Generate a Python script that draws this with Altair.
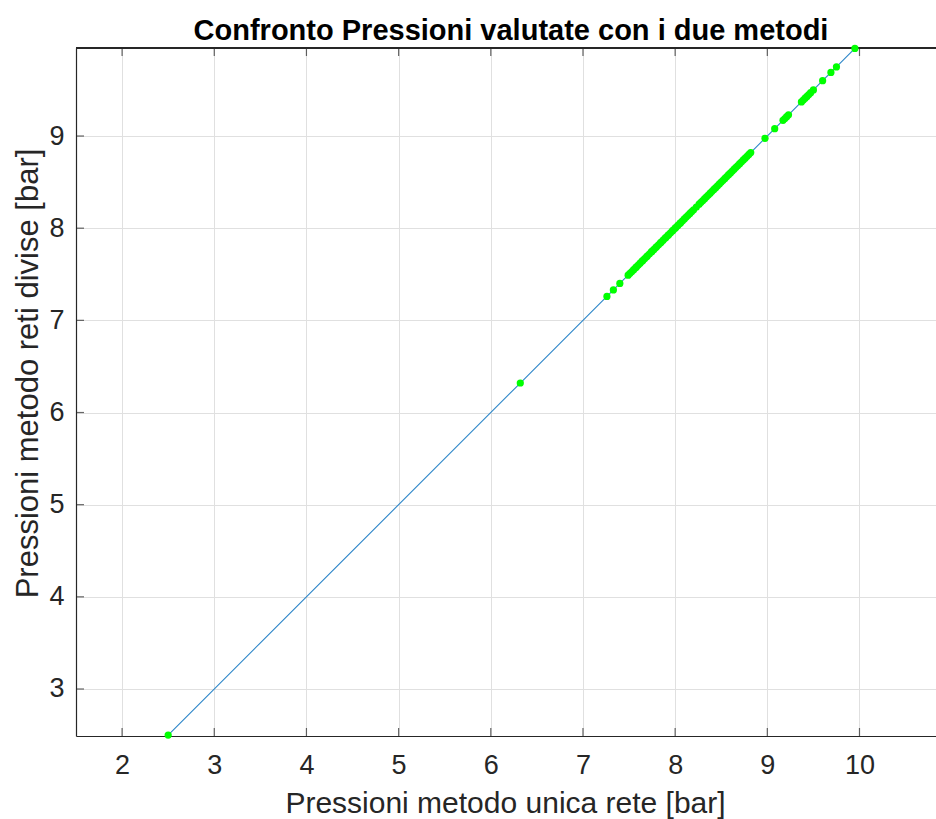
import altair as alt
import pandas as pd

# Pressures computed with the two methods [bar]
pressioni_unica = [
    2.50, 6.32,
    7.26, 7.33, 7.40,
    7.49, 7.51, 7.53, 7.55, 7.57, 7.58, 7.60, 7.62, 7.64, 7.65, 7.67, 7.69,
    7.70, 7.72, 7.74, 7.75, 7.77, 7.79, 7.80, 7.82, 7.84, 7.85, 7.87, 7.89,
    7.90, 7.92, 7.93, 7.95, 7.97, 7.98, 8.00, 8.01, 8.03, 8.05, 8.06, 8.08,
    8.10, 8.12, 8.14, 8.16, 8.18, 8.20, 8.23, 8.26, 8.28, 8.30, 8.32, 8.34,
    8.36, 8.38, 8.40, 8.42, 8.44, 8.46, 8.48, 8.50, 8.52, 8.54, 8.56, 8.58,
    8.60, 8.62, 8.64, 8.66, 8.68, 8.70, 8.72, 8.74, 8.76, 8.78, 8.80, 8.82,
    8.975, 9.08, 9.17, 9.19, 9.21, 9.23,
    9.37, 9.39, 9.41, 9.43, 9.45, 9.47, 9.50,
    9.60, 9.69, 9.75, 9.95,
]
pressioni_divise = list(pressioni_unica)

x_ticks = [2, 3, 4, 5, 6, 7, 8, 9, 10]
y_ticks = [3, 4, 5, 6, 7, 8, 9]
x_domain = [1.5, 10.83]
y_domain = [2.49, 9.955]

FONT = "Liberation Sans"
AX = "#262626"
GRID = "#e0e0e0"

df = pd.DataFrame({"unica": pressioni_unica, "divise": pressioni_divise})
xt = pd.DataFrame({"t": x_ticks})
yt = pd.DataFrame({"t": y_ticks})

x_scale = alt.Scale(domain=x_domain, nice=False, zero=False)
y_scale = alt.Scale(domain=y_domain, nice=False, zero=False)

x_axis = alt.Axis(
    values=x_ticks, title="Pressioni metodo unica rete [bar]",
    grid=True, gridColor=GRID, gridWidth=1,
    ticks=False, tickSize=0, domainColor=AX, domainWidth=1.2,
    labelFont=FONT, labelFontSize=27, labelColor=AX,
    labelBaseline="alphabetic", labelPadding=37,
    titleFont=FONT, titleFontSize=30, titleFontWeight="normal", titleColor=AX,
    titleBaseline="alphabetic", titleX=429, titleY=76,
)
y_axis = alt.Axis(
    values=y_ticks, title="Pressioni metodo reti divise [bar]",
    grid=True, gridColor=GRID, gridWidth=1,
    ticks=False, tickSize=0, domainColor=AX, domainWidth=1.2,
    labelFont=FONT, labelFontSize=27, labelColor=AX,
    labelBaseline="middle", labelPadding=12,
    titleFont=FONT, titleFontSize=31, titleFontWeight="normal", titleColor=AX,
    titleBaseline="alphabetic", titleX=-39, titleY=325,
)


def X(field):
    return alt.X(field, type="quantitative", scale=x_scale, axis=x_axis)


def Y(field):
    return alt.Y(field, type="quantitative", scale=y_scale, axis=y_axis)


def XD(v):
    return alt.XDatum(v, type="quantitative", scale=x_scale, axis=x_axis)


def YD(v):
    return alt.YDatum(v, type="quantitative", scale=y_scale, axis=y_axis)


# comparison line through the points
line = alt.Chart(df).mark_line(color="#2d86c9", strokeWidth=1.1).encode(
    x=X("unica"), y=Y("divise")
)

points = alt.Chart(df).mark_circle(color="#00FF00", opacity=1, size=52).encode(
    x=X("unica"), y=Y("divise")
)

# top frame line
top_line = alt.Chart(df).mark_rule(color=AX, strokeWidth=1.2).encode(
    y=YD(y_domain[1])
)

# inward tick marks (half of each tick is clipped away)
ticks_bottom = alt.Chart(xt).mark_tick(
    orient="vertical", size=16, thickness=1.2, clip=True, color=AX
).encode(x=X("t"), y=YD(y_domain[0]))
ticks_top = alt.Chart(xt).mark_tick(
    orient="vertical", size=16, thickness=1.2, clip=True, color=AX
).encode(x=X("t"), y=YD(y_domain[1]))
ticks_left = alt.Chart(yt).mark_tick(
    orient="horizontal", size=16, thickness=1.2, clip=True, color=AX
).encode(x=XD(x_domain[0]), y=Y("t"))

chart = alt.layer(
    line, ticks_bottom, ticks_top, ticks_left, top_line, points
).properties(
    width=860,
    height=688,
    padding={"left": 76, "top": 48, "right": 0, "bottom": 83},
    autosize="none",
    background="white",
    title=alt.TitleParams(
        "Confronto Pressioni valutate con i due metodi",
        font=FONT, fontSize=29, fontWeight="bold", color="black",
        anchor="middle", baseline="alphabetic", offset=8, dx=5, dy=32,
    ),
).configure_view(stroke=None)

chart.save("out.html", embed_options={"renderer": "svg", "actions": False})
